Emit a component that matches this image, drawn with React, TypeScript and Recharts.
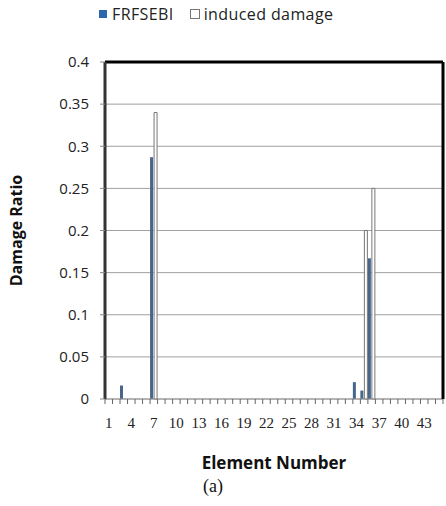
import { Bar, BarChart, CartesianGrid, ReferenceLine, XAxis, YAxis } from 'recharts';

// element numbers along the x axis
const elements = Array.from({ length: 45 }, (_, i) => i + 1);

// damage ratio (0 elsewhere)
const frfsebiValues: Record<number, number> = { 3: 0.016, 7: 0.287, 34: 0.02, 35: 0.01, 36: 0.167 };
const inducedValues: Record<number, number> = { 7: 0.34, 35: 0.2, 36: 0.25 };

const yTicks = [0, 0.05, 0.1, 0.15, 0.2, 0.25, 0.3, 0.35, 0.4];

const seriesNames = ['FRFSEBI', 'induced damage'];

const data = elements.map((el) => ({
  element: el,
  frfsebi: frfsebiValues[el] ?? 0,
  induced: inducedValues[el] ?? 0,
}));

const WIDTH = 446;
const HEIGHT = 506;
const Y_AXIS_W = 105;
const RIGHT_W = 3;
const STEP = (WIDTH - Y_AXIS_W - RIGHT_W) / elements.length;

const SANS = '"Open Sans", "Noto Sans", sans-serif';
const SERIF = '"Liberation Serif", "Times New Roman", serif';

// Excel style ticks: marks between categories, label under every third one
function ElementTick(props: any) {
  const { x, payload, index } = props;
  const axisY = props.y - 8;
  const label = (payload.value - 1) % 3 === 0 ? String(payload.value) : '';
  const left = x - STEP / 2;
  return (
    <g>
      <line x1={left} y1={axisY} x2={left} y2={axisY + 5} stroke="#666" />
      {index === elements.length - 1 && (
        <line x1={left + STEP} y1={axisY} x2={left + STEP} y2={axisY + 5} stroke="#666" />
      )}
      <text x={x} y={axisY + 29} textAnchor="middle" fontFamily={SERIF} fontSize={15} fill="#222">
        {label}
      </text>
    </g>
  );
}

function LegendBox() {
  return (
    <div
      style={{
        position: 'absolute',
        left: 99,
        top: 3,
        display: 'flex',
        alignItems: 'center',
        fontFamily: SANS,
        fontSize: 16,
        color: '#222',
        letterSpacing: 0.4,
      }}
    >
      <span style={{ width: 8, height: 8, background: '#2a67b0', marginRight: 5, display: 'inline-block' }} />
      <span style={{ marginRight: 16 }}>{seriesNames[0]}</span>
      <span
        style={{
          width: 8,
          height: 8,
          border: '1px solid #777',
          background: '#fff',
          marginRight: 4,
          display: 'inline-block',
        }}
      />
      <span>{seriesNames[1]}</span>
    </div>
  );
}

export default function App() {
  return (
    <div style={{ position: 'fixed', left: 0, top: 0, width: WIDTH, height: HEIGHT, background: '#fff' }}>
      <BarChart
        width={WIDTH}
        height={HEIGHT}
        data={data}
        margin={{ top: 62, right: 0, left: 0, bottom: 77 }}
        barGap={1}
        barSize={3}
      >
        <CartesianGrid vertical={false} stroke="#a0a0a0" />
        <XAxis
          dataKey="element"
          interval={0}
          tickLine={false}
          tick={<ElementTick />}
          axisLine={{ stroke: '#999' }}
          height={30}
          label={{
            value: 'Element Number',
            position: 'insideBottom',
            offset: -40,
            style: { fontFamily: SANS, fontWeight: 700, fontSize: 17, fill: '#111' },
          }}
        />
        <YAxis
          domain={[0, 0.4]}
          ticks={yTicks}
          width={Y_AXIS_W}
          tickSize={5}
          tickMargin={11}
          tickLine={{ stroke: '#888' }}
          axisLine={{ stroke: '#333', strokeWidth: 3 }}
          tick={{ fontFamily: SANS, fontSize: 15, fill: '#222' }}
          label={{
            value: 'Damage Ratio',
            angle: -90,
            position: 'insideLeft',
            offset: 16,
            style: { textAnchor: 'middle', fontFamily: SANS, fontWeight: 700, fontSize: 16, fill: '#111' },
          }}
        />
        <YAxis yAxisId="right" orientation="right" width={RIGHT_W} tick={false} tickLine={false} axisLine={{ stroke: '#000', strokeWidth: 3 }} />
        <ReferenceLine y={0.4} stroke="#000" strokeWidth={3} />
        <Bar dataKey="frfsebi" name={seriesNames[0]} fill="#46668c" isAnimationActive={false} />
        <Bar dataKey="induced" name={seriesNames[1]} fill="#fff" stroke="#777" strokeWidth={1} isAnimationActive={false} />
      </BarChart>
      <LegendBox />
      <div
        style={{
          position: 'absolute',
          left: 0,
          width: WIDTH,
          top: 476,
          textAlign: 'center',
          fontFamily: SERIF,
          fontSize: 18,
          color: '#111',
          paddingRight: 20,
          boxSizing: 'border-box',
        }}
      >
        (a)
      </div>
    </div>
  );
}
